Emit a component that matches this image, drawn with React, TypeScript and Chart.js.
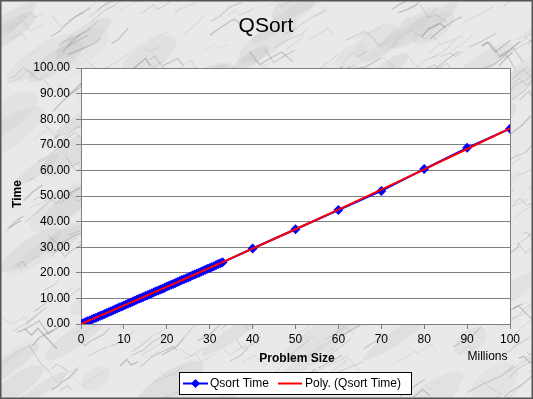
import React, { useEffect, useRef } from "react";
import { Chart, registerables } from "chart.js";

Chart.register(...registerables);

const problemSizes = [
  0, 0.5, 1, 1.5, 2, 2.5, 3, 3.5, 4, 4.5, 5, 5.5, 6, 6.5, 7, 7.5, 8, 8.5, 9, 9.5,
  10, 10.5, 11, 11.5, 12, 12.5, 13, 13.5, 14, 14.5, 15, 15.5, 16, 16.5, 17, 17.5,
  18, 18.5, 19, 19.5, 20, 20.5, 21, 21.5, 22, 22.5, 23, 23.5, 24, 24.5, 25, 25.5,
  26, 26.5, 27, 27.5, 28, 28.5, 29, 29.5, 30, 30.5, 31, 31.5, 32, 32.5, 33,
  40, 50, 60, 70, 80, 90, 100,
];
const qsortTimes = [
  0.0, 0.34, 0.68, 1.04, 1.4, 1.75, 2.1, 2.48, 2.85, 3.2, 3.55, 3.92, 4.3, 4.66,
  5.02, 5.38, 5.75, 6.12, 6.5, 6.88, 7.25, 7.61, 7.98, 8.34, 8.7, 9.08, 9.45,
  9.82, 10.2, 10.55, 10.9, 11.25, 11.6, 12.0, 12.4, 12.75, 13.1, 13.45, 13.8,
  14.2, 14.6, 14.95, 15.3, 15.65, 16.0, 16.4, 16.8, 17.15, 17.5, 17.85, 18.2,
  18.6, 19.0, 19.35, 19.7, 20.05, 20.4, 20.8, 21.2, 21.55, 21.9, 22.25, 22.6,
  23.0, 23.4, 23.75, 24.1,
  29.5, 37.0, 44.5, 52.0, 60.5, 68.8, 76.3,
];
const yTicks = [0, 10, 20, 30, 40, 50, 60, 70, 80, 90, 100];
const xTicks = [0, 10, 20, 30, 40, 50, 60, 70, 80, 90, 100];

// Quadratic least-squares trendline ("Poly.") fitted to the data
function polyFit(xs: number[], ys: number[]) {
  let s0 = 0, s1 = 0, s2 = 0, s3 = 0, s4 = 0, t0 = 0, t1 = 0, t2 = 0;
  for (let i = 0; i < xs.length; i++) {
    const x = xs[i], y = ys[i];
    s0 += 1; s1 += x; s2 += x * x; s3 += x * x * x; s4 += x * x * x * x;
    t0 += y; t1 += x * y; t2 += x * x * y;
  }
  const m = [
    [s0, s1, s2, t0],
    [s1, s2, s3, t1],
    [s2, s3, s4, t2],
  ];
  for (let c = 0; c < 3; c++) {
    for (let r = c + 1; r < 3; r++) {
      const f = m[r][c] / m[c][c];
      for (let k = c; k < 4; k++) m[r][k] -= f * m[c][k];
    }
  }
  const coef = [0, 0, 0];
  for (let r = 2; r >= 0; r--) {
    let s = m[r][3];
    for (let k = r + 1; k < 3; k++) s -= m[r][k] * coef[k];
    coef[r] = s / m[r][r];
  }
  return (x: number) => coef[0] + coef[1] * x + coef[2] * x * x;
}

const FONT = "'Liberation Sans', Arial, sans-serif";

function drawMarble(ctx: CanvasRenderingContext2D, w: number, h: number) {
  ctx.fillStyle = "#e9e9e9";
  ctx.fillRect(0, 0, w, h);
  let seed = 4242;
  const rnd = () => {
    seed = (seed * 1103515245 + 12345) & 0x7fffffff;
    return seed / 0x7fffffff;
  };
  for (let i = 0; i < 90; i++) {
    const x = rnd() * w;
    const y = rnd() * h;
    ctx.fillStyle = `rgba(190,190,190,${0.12 + rnd() * 0.15})`;
    ctx.beginPath();
    ctx.ellipse(x, y, 15 + rnd() * 30, 5 + rnd() * 10, -0.6, 0, Math.PI * 2);
    ctx.fill();
  }
  for (let i = 0; i < 420; i++) {
    let x = rnd() * w;
    let y = rnd() * h;
    ctx.strokeStyle = `rgba(120,120,120,${0.12 + rnd() * 0.3})`;
    ctx.lineWidth = 0.5 + rnd() * 0.9;
    ctx.beginPath();
    ctx.moveTo(x, y);
    const segs = 2 + Math.floor(rnd() * 3);
    for (let s = 0; s < segs; s++) {
      const ang = -0.35 - rnd() * 0.5 + (rnd() < 0.2 ? 1.4 : 0);
      const len = 5 + rnd() * 12;
      x += Math.cos(ang) * len;
      y += Math.sin(ang) * len;
      ctx.lineTo(x, y);
    }
    ctx.stroke();
  }
}

const decorPlugin = {
  id: "decor",
  beforeDraw(chart: any) {
    const { ctx, chartArea: a, width, height } = chart;
    ctx.save();
    drawMarble(ctx, width, height);
    ctx.fillStyle = "#ffffff";
    ctx.fillRect(a.left, a.top, a.right - a.left, a.bottom - a.top);
    ctx.restore();
  },
  beforeDatasetsDraw(chart: any) {
    const { ctx, chartArea: a } = chart;
    ctx.save();
    ctx.strokeStyle = "#808080";
    ctx.lineWidth = 1;
    ctx.strokeRect(a.left + 0.5, a.top + 0.5, a.right - a.left, a.bottom - a.top);
    ctx.restore();
  },
  afterDraw(chart: any) {
    const { ctx, chartArea: a, width, height } = chart;
    ctx.save();
    ctx.fillStyle = "#000";
    ctx.textAlign = "center";
    ctx.textBaseline = "middle";
    ctx.font = `21px ${FONT}`;
    ctx.fillText("QSort", 266, 26);

    ctx.font = `bold 12px ${FONT}`;
    ctx.fillText("Problem Size", 297, 359);
    ctx.save();
    ctx.translate(18, (a.top + a.bottom) / 2 - 2);
    ctx.rotate(-Math.PI / 2);
    ctx.fillText("Time", 0, 0);
    ctx.restore();

    ctx.font = `12px ${FONT}`;
    ctx.fillText("Millions", 487.5, 357);

    // legend
    const lx = 179, ly = 372, lw = 232, lh = 22;
    ctx.fillStyle = "#ffffff";
    ctx.fillRect(lx, ly, lw, lh);
    ctx.strokeStyle = "#000";
    ctx.lineWidth = 1;
    ctx.strokeRect(lx + 0.5, ly + 0.5, lw, lh);
    const cy = ly + lh / 2 + 0.5;
    ctx.strokeStyle = "#0000ff";
    ctx.lineWidth = 2;
    ctx.beginPath();
    ctx.moveTo(183, cy);
    ctx.lineTo(208, cy);
    ctx.stroke();
    ctx.fillStyle = "#0000ff";
    ctx.beginPath();
    ctx.moveTo(195.5, cy - 4.5);
    ctx.lineTo(200, cy);
    ctx.lineTo(195.5, cy + 4.5);
    ctx.lineTo(191, cy);
    ctx.closePath();
    ctx.fill();
    ctx.strokeStyle = "#ff0000";
    ctx.beginPath();
    ctx.moveTo(278, cy);
    ctx.lineTo(302, cy);
    ctx.stroke();
    ctx.fillStyle = "#000";
    ctx.textAlign = "left";
    ctx.font = `12px ${FONT}`;
    ctx.fillText("Qsort Time", 210, cy);
    ctx.fillText("Poly. (Qsort Time)", 305, cy);

    // outer border
    ctx.strokeStyle = "#555";
    ctx.lineWidth = 1.5;
    ctx.strokeRect(0.75, 0.75, width - 1.5, height - 1.5);
    ctx.restore();
  },
};

export default function App() {
  const ref = useRef<HTMLCanvasElement>(null);
  useEffect(() => {
    document.body.style.margin = "0";
    const fit = polyFit(problemSizes, qsortTimes);
    const chart = new Chart(ref.current!, {
      type: "line",
      data: {
        datasets: [
          {
            label: "Poly. (Qsort Time)",
            data: problemSizes.map((x) => ({ x, y: fit(x) })),
            borderColor: "#ff0000",
            borderWidth: 2,
            pointRadius: 0,
            fill: false,
            order: 0,
          },
          {
            label: "Qsort Time",
            data: problemSizes.map((x, i) => ({ x, y: qsortTimes[i] })),
            borderColor: "#0000ff",
            backgroundColor: "#0000ff",
            borderWidth: 2,
            pointStyle: "rectRot",
            pointRadius: 5,
            pointBorderWidth: 0,
            fill: false,
            order: 1,
          },
        ],
      },
      options: {
        responsive: false,
        animation: false,
        layout: { padding: { left: 0, top: 68, right: 23, bottom: 0 } },
        plugins: {
          legend: { display: false },
          title: { display: false },
          tooltip: { enabled: false },
        },
        scales: {
          x: {
            type: "linear",
            min: 0,
            max: 100,
            afterBuildTicks: (s: any) => {
              s.ticks = xTicks.map((v) => ({ value: v }));
            },
            afterFit: (s: any) => {
              s.height = 75;
            },
            ticks: {
              color: "#000",
              font: { family: FONT, size: 12 },
              padding: 3,
              maxRotation: 0,
            },
            grid: {
              drawOnChartArea: false,
              drawTicks: true,
              tickLength: 5,
              color: "#808080",
            },
            border: { color: "#808080" },
          },
          y: {
            type: "linear",
            min: 0,
            max: 100,
            afterBuildTicks: (s: any) => {
              s.ticks = yTicks.map((v) => ({ value: v }));
            },
            afterFit: (s: any) => {
              s.width = 81;
            },
            ticks: {
              color: "#000",
              font: { family: FONT, size: 12 },
              padding: 6,
              callback: (v: any) => Number(v).toFixed(2),
            },
            grid: {
              color: "#808080",
              tickLength: 5,
            },
            border: { color: "#808080" },
          },
        },
      },
      plugins: [decorPlugin],
    });
    return () => chart.destroy();
  }, []);
  return <canvas ref={ref} width={533} height={399} style={{ display: "block" }} />;
}
